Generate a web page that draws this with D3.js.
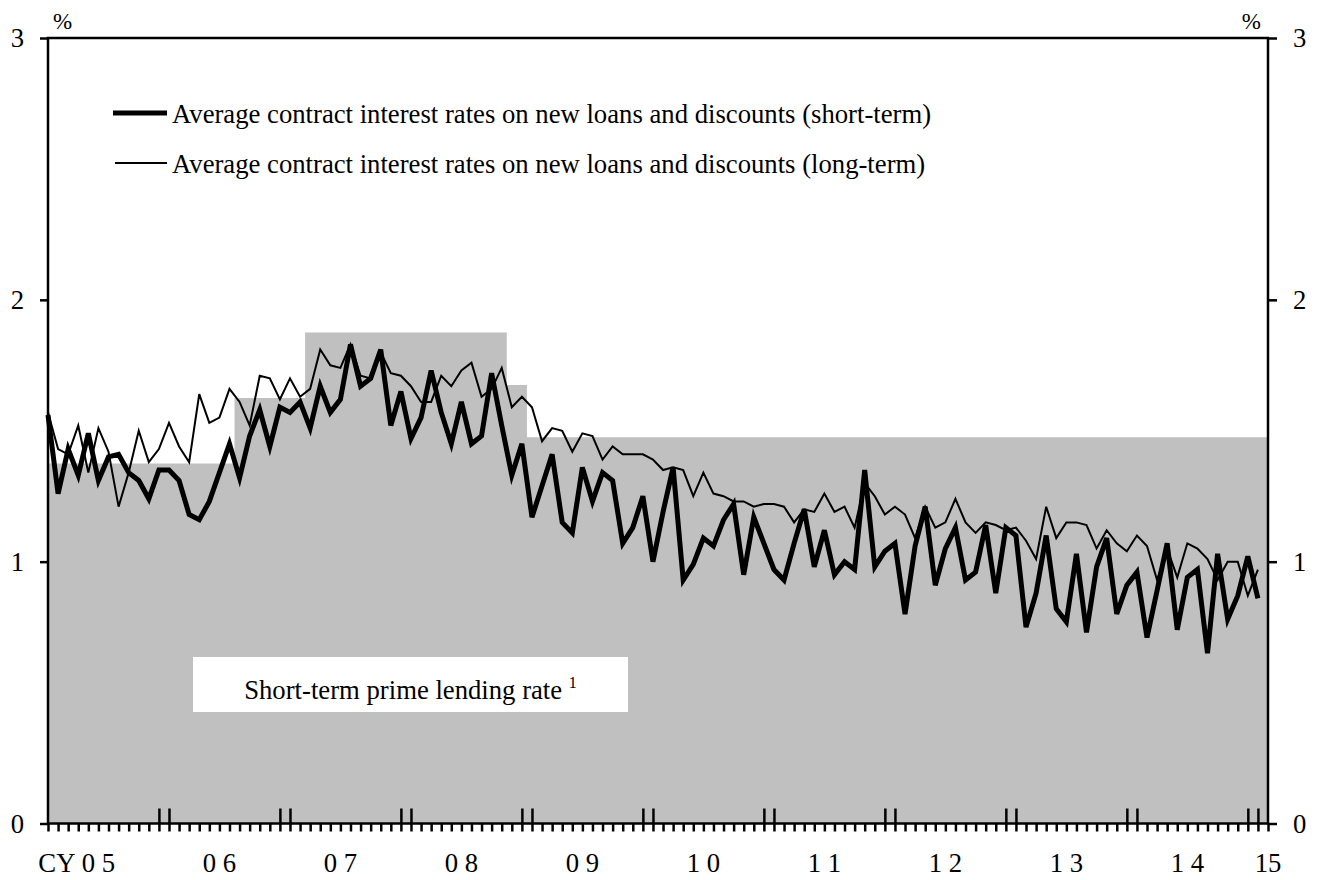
<!DOCTYPE html>
<html>
<head>
<meta charset="utf-8">
<script src="https://cdn.jsdelivr.net/npm/d3@7/dist/d3.min.js"></script>
<style>
  body { margin: 0; background: #fff; }
  svg { display: block; font-family: "Liberation Serif", "Times New Roman", serif; }
</style>
</head>
<body>
<div id="chart"></div>
<script>
// Monthly data, Jan 2005 .. Jan 2015 (percent)
const startYear = 2005;

const shortTerm = [
  1.56, 1.26, 1.43, 1.33, 1.49, 1.31, 1.40, 1.41, 1.34, 1.31, 1.24, 1.35,  // 05
  1.35, 1.31, 1.18, 1.16, 1.23, 1.34, 1.45, 1.32, 1.48, 1.58, 1.44, 1.59,  // 06
  1.57, 1.61, 1.51, 1.67, 1.57, 1.62, 1.83, 1.67, 1.70, 1.81, 1.52, 1.65,  // 07
  1.47, 1.55, 1.73, 1.57, 1.45, 1.61, 1.45, 1.48, 1.72, 1.52, 1.33, 1.45,  // 08
  1.17, 1.29, 1.41, 1.15, 1.11, 1.36, 1.23, 1.34, 1.31, 1.07, 1.13, 1.25,  // 09
  1.00, 1.19, 1.36, 0.93, 0.99, 1.09, 1.06, 1.16, 1.22, 0.95, 1.17, 1.07,  // 10
  0.97, 0.93, 1.07, 1.20, 0.98, 1.12, 0.95, 1.00, 0.97, 1.35, 0.98, 1.04,  // 11
  1.07, 0.80, 1.06, 1.21, 0.91, 1.05, 1.13, 0.93, 0.96, 1.14, 0.88, 1.13,  // 12
  1.10, 0.75, 0.88, 1.10, 0.82, 0.77, 1.03, 0.73, 0.98, 1.09, 0.80, 0.91,  // 13
  0.96, 0.71, 0.89, 1.07, 0.74, 0.94, 0.97, 0.65, 1.03, 0.78, 0.87, 1.02,  // 14
  0.86                                                                     // 15
];

const longTerm = [
  1.57, 1.43, 1.41, 1.52, 1.34, 1.51, 1.42, 1.21, 1.34, 1.50, 1.38, 1.43,
  1.53, 1.44, 1.38, 1.64, 1.53, 1.55, 1.66, 1.61, 1.52, 1.71, 1.70, 1.62,
  1.70, 1.63, 1.66, 1.81, 1.75, 1.74, 1.83, 1.71, 1.70, 1.80, 1.72, 1.71,
  1.67, 1.61, 1.61, 1.71, 1.67, 1.73, 1.76, 1.63, 1.66, 1.74, 1.59, 1.63,
  1.59, 1.46, 1.51, 1.50, 1.42, 1.49, 1.48, 1.39, 1.44, 1.41, 1.41, 1.41,
  1.39, 1.35, 1.36, 1.35, 1.25, 1.34, 1.26, 1.25, 1.23, 1.23, 1.21, 1.22,
  1.22, 1.21, 1.15, 1.20, 1.19, 1.26, 1.19, 1.21, 1.13, 1.30, 1.25, 1.18,
  1.21, 1.18, 1.09, 1.21, 1.13, 1.15, 1.24, 1.15, 1.11, 1.15, 1.14, 1.12,
  1.13, 1.08, 1.01, 1.21, 1.09, 1.15, 1.15, 1.14, 1.05, 1.12, 1.07, 1.04,
  1.10, 1.06, 0.93, 1.05, 0.94, 1.07, 1.05, 1.01, 0.93, 1.00, 1.00, 0.87,
  0.97
];

// Short-term prime lending rate: month of change and new level
const primeMonths = ['2005-01', '2006-08', '2007-03', '2008-11', '2009-01'];
const primeRates = [1.375, 1.625, 1.875, 1.675, 1.475];

const yearLabels = ['0 5', '0 6', '0 7', '0 8', '0 9', '1 0', '1 1', '1 2', '1 3', '1 4', '15'];
const yTicks = [0, 1, 2, 3];

const legendLabels = [
  'Average contract interest rates on new loans and discounts (short-term)',
  'Average contract interest rates on new loans and discounts (long-term)'
];
const boxLabel = 'Short-term prime lending rate';

// ---- layout ----
const W = 1320, H = 880;
const nMonths = 121;               // axis runs to Feb 2015
const fontSize = 26.7;
const serif = '"Liberation Serif", "Times New Roman", serif';

const svg = d3.select('#chart').append('svg')
  .attr('width', W).attr('height', H);

const x = d3.scaleLinear().domain([0, nMonths]).range([48, 1268]);
const y = d3.scaleLinear().domain([0, 3]).range([823.5, 38]);

const monthIndex = s => {
  const [yy, mm] = s.split('-').map(Number);
  return (yy - startYear) * 12 + (mm - 1);
};

// prime rate for every month on the axis (step series)
const primeIdx = primeMonths.map(monthIndex);
const primeSeries = d3.range(0, nMonths + 1).map(i => {
  let r = primeRates[0];
  primeIdx.forEach((m, j) => { if (m <= i) r = primeRates[j]; });
  return { i, v: r };
});

// gray area for prime rate
svg.append('path')
  .datum(primeSeries)
  .attr('fill', '#c0c0c0')
  .attr('d', d3.area()
    .curve(d3.curveStep)
    .x(d => x(d.i))
    .y0(y(0))
    .y1(d => y(d.v)));

// white label box
const box = svg.append('g');
box.append('rect')
  .attr('x', 193).attr('y', 657)
  .attr('width', 435).attr('height', 55)
  .attr('fill', '#fff');
const boxText = box.append('text')
  .attr('x', 410.5).attr('y', 699)
  .attr('text-anchor', 'middle')
  .attr('font-size', fontSize)
  .text(boxLabel + ' ');
boxText.append('tspan')
  .attr('font-size', 16)
  .attr('dy', -11)
  .text('1');

// series lines
const line = d3.line()
  .x((d, i) => x(i))
  .y(d => y(d));

svg.append('path')
  .datum(longTerm)
  .attr('fill', 'none')
  .attr('stroke', '#000')
  .attr('stroke-width', 2)
  .attr('d', line);

svg.append('path')
  .datum(shortTerm)
  .attr('fill', 'none')
  .attr('stroke', '#000')
  .attr('stroke-width', 5)
  .attr('d', line);

// frame
svg.append('rect')
  .attr('x', x(0)).attr('y', y(3))
  .attr('width', x(nMonths) - x(0))
  .attr('height', y(0) - y(3))
  .attr('fill', 'none')
  .attr('stroke', '#000')
  .attr('stroke-width', 2.5);

// y axes
const styleAxis = g => {
  g.attr('font-family', serif).attr('font-size', fontSize);
  g.select('.domain').remove();
  g.selectAll('line').attr('stroke', '#000').attr('stroke-width', 2.5);
  g.selectAll('text').attr('fill', '#000');
};

svg.append('g')
  .attr('transform', `translate(${x(0)},0)`)
  .call(d3.axisLeft(y).tickValues(yTicks).tickSize(8).tickPadding(16).tickFormat(d3.format('d')))
  .call(styleAxis);

svg.append('g')
  .attr('transform', `translate(${x(nMonths)},0)`)
  .call(d3.axisRight(y).tickValues(yTicks).tickSize(9).tickPadding(16).tickFormat(d3.format('d')))
  .call(styleAxis);

// x axis: monthly ticks below
svg.append('g')
  .attr('transform', `translate(0,${y(0)})`)
  .call(d3.axisBottom(x).tickValues(d3.range(0, nMonths + 1)).tickSize(8).tickFormat(''))
  .call(styleAxis);

// year boundary double ticks (Dec / Jan), upward
const yearEdges = [];
for (let k = 1; k * 12 <= nMonths - 1; k++) yearEdges.push(k * 12 - 1, k * 12);
svg.append('g')
  .attr('transform', `translate(0,${y(0)})`)
  .call(d3.axisTop(x).tickValues(yearEdges).tickSize(15).tickFormat(''))
  .call(styleAxis);

// year labels
svg.append('g')
  .selectAll('text')
  .data(yearLabels)
  .join('text')
  .attr('x', (d, i) => x(i < yearLabels.length - 1 ? i * 12 + 5 : nMonths))
  .attr('y', 872)
  .attr('text-anchor', 'middle')
  .attr('font-size', fontSize)
  .text(d => d);

svg.append('text')
  .attr('x', x(5) - 23)
  .attr('y', 872)
  .attr('text-anchor', 'end')
  .attr('font-size', fontSize)
  .text('CY');

// % units
svg.append('text').attr('x', 53).attr('y', 29).attr('font-size', 23).text('%');
svg.append('text').attr('x', 1261).attr('y', 29).attr('text-anchor', 'end').attr('font-size', 23).text('%');

// legend
const legend = svg.append('g');
const legendWidths = [5, 2];
const legendY = [113, 163];
legendLabels.forEach((lab, i) => {
  legend.append('line')
    .attr('x1', i === 0 ? 113 : 115).attr('x2', 167)
    .attr('y1', legendY[i]).attr('y2', legendY[i])
    .attr('stroke', '#000')
    .attr('stroke-width', legendWidths[i]);
  legend.append('text')
    .attr('x', 172)
    .attr('y', legendY[i] + 10)
    .attr('font-size', fontSize)
    .text(lab);
});
</script>
</body>
</html>
